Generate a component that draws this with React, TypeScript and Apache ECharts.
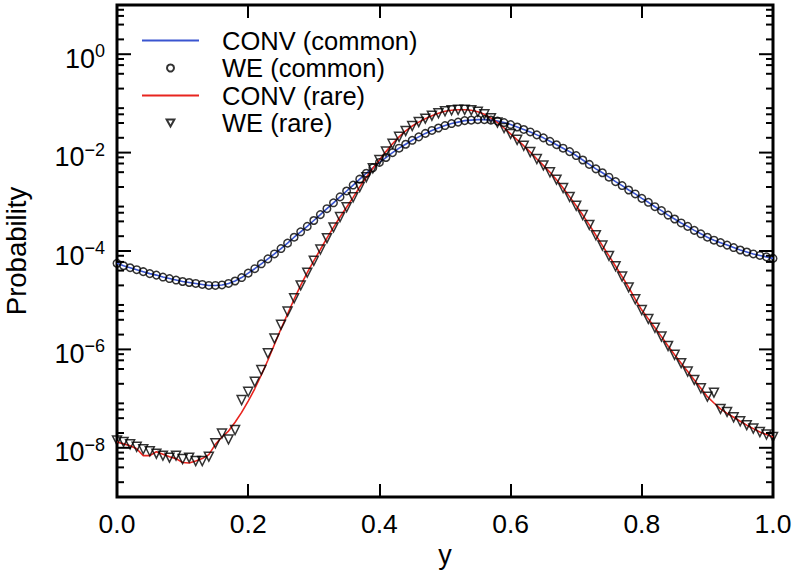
import React, { useEffect, useRef } from "react";
import * as echarts from "echarts";

const FONT = "'Liberation Sans', Arial, Helvetica, sans-serif";

// x sampling step of the curves (x = 0.00 ... 1.00)
const X_STEP = 0.01;

// log10(Probability), common event, x = 0.00 .. 1.00 step 0.01
const commonLog10 = [
  -4.25, -4.3, -4.34, -4.38, -4.42, -4.46, -4.49, -4.53, -4.56, -4.59,
  -4.62, -4.64, -4.66, -4.68, -4.7, -4.7, -4.69, -4.66, -4.61, -4.54,
  -4.45, -4.36, -4.26, -4.16, -4.06, -3.95, -3.84, -3.72, -3.61, -3.5,
  -3.38, -3.26, -3.14, -3.02, -2.9, -2.78, -2.66, -2.54, -2.42, -2.31,
  -2.2, -2.1, -2.0, -1.91, -1.83, -1.75, -1.68, -1.61, -1.55, -1.5,
  -1.45, -1.41, -1.38, -1.35, -1.34, -1.33, -1.33, -1.34, -1.36, -1.39,
  -1.43, -1.48, -1.53, -1.58, -1.64, -1.7, -1.77, -1.84, -1.91, -1.98,
  -2.06, -2.15, -2.24, -2.33, -2.41, -2.5, -2.59, -2.67, -2.76, -2.84,
  -2.93, -3.01, -3.1, -3.18, -3.27, -3.35, -3.43, -3.5, -3.58, -3.65,
  -3.72, -3.78, -3.83, -3.88, -3.93, -3.98, -4.02, -4.06, -4.09, -4.12,
  -4.15,
];

// log10(Probability), rare event, CONV line
const rareConvLog10 = [
  -7.88, -7.92, -7.96, -8.02, -8.16, -8.16, -8.08, -8.13, -8.18, -8.22,
  -8.3, -8.31, -8.27, -8.22, -8.14, -7.93, -7.78, -7.66, -7.48, -7.28,
  -7.05, -6.8, -6.52, -6.22, -5.9, -5.58, -5.28, -4.98, -4.7, -4.44,
  -4.2, -3.97, -3.74, -3.52, -3.31, -3.11, -2.91, -2.7, -2.5, -2.32,
  -2.15, -1.98, -1.82, -1.68, -1.56, -1.46, -1.38, -1.31, -1.25, -1.2,
  -1.16, -1.14, -1.13, -1.13, -1.14, -1.17, -1.22, -1.3, -1.39, -1.5,
  -1.62, -1.74, -1.86, -1.99, -2.13, -2.26, -2.4, -2.55, -2.72, -2.9,
  -3.08, -3.27, -3.47, -3.68, -3.89, -4.1, -4.31, -4.52, -4.74, -4.98,
  -5.2, -5.38, -5.56, -5.74, -5.93, -6.11, -6.28, -6.45, -6.62, -6.79,
  -6.96, -7.09, -7.21, -7.3, -7.38, -7.46, -7.54, -7.61, -7.68, -7.73,
  -7.78,
];

// log10(Probability), rare event, WE markers
const rareWeLog10 = [
  -7.85, -7.88, -7.93, -7.98, -8.03, -8.07, -8.12, -8.16, -8.2, -8.16,
  -8.23, -8.2, -8.27, -8.27, -8.18, -7.91, -7.71, -7.83, -7.64, -7.03,
  -6.86, -6.66, -6.42, -6.08, -5.78, -5.5, -5.23, -4.96, -4.7, -4.44,
  -4.2, -3.97, -3.74, -3.52, -3.31, -3.11, -2.91, -2.7, -2.5, -2.32,
  -2.15, -1.98, -1.82, -1.68, -1.56, -1.46, -1.38, -1.31, -1.25, -1.2,
  -1.16, -1.14, -1.13, -1.13, -1.14, -1.17, -1.22, -1.3, -1.39, -1.5,
  -1.62, -1.74, -1.86, -1.99, -2.13, -2.26, -2.4, -2.55, -2.72, -2.9,
  -3.08, -3.27, -3.47, -3.68, -3.89, -4.1, -4.31, -4.52, -4.74, -4.98,
  -5.2, -5.38, -5.56, -5.74, -5.93, -6.11, -6.28, -6.45, -6.62, -6.79,
  -6.96, -6.88, -7.21, -7.27, -7.38, -7.46, -7.54, -7.61, -7.68, -7.73,
  -7.78,
];

const legendNames = ["CONV (common)", "WE (common)", "CONV (rare)", "WE (rare)"];
const xTickValues = [0, 0.2, 0.4, 0.6, 0.8, 1.0];
const yLabelExponents = [-8, -6, -4, -2, 0];
const yMinorMantissas = [2, 4, 6, 8];
const yDecades = [-9, -8, -7, -6, -5, -4, -3, -2, -1, 0];

const BLUE = "#3a55d0";
const RED = "#e8251f";

const toPoints = (arr: number[]) =>
  arr.map((v, i) => [Number((i * X_STEP).toFixed(2)), Math.pow(10, v)]);

export default function App() {
  const ref = useRef<HTMLDivElement>(null);

  useEffect(() => {
    if (!ref.current) return;
    const chart = echarts.init(ref.current, null, { renderer: "svg" });

    const tickData: number[][] = [];
    yLabelExponents.forEach((e) => tickData.push([0.5, Math.pow(10, e), 1]));
    yDecades.forEach((d) =>
      yMinorMantissas.forEach((m) => tickData.push([0.5, m * Math.pow(10, d), 0]))
    );

    const supText = (e: number) => (e < 0 ? "\u2212" + String(-e) : String(e));
    const lineIcon = "path://M0,0H57V2H0Z";
    const triIcon = "path://M0,0H10L5,9Z";

    chart.setOption({
      animation: false,
      backgroundColor: "#fff",
      grid: {
        left: 117,
        right: 25,
        top: 5,
        bottom: 73,
        show: true,
        borderColor: "#000",
        borderWidth: 3,
        backgroundColor: "transparent",
        containLabel: false,
        outerBoundsMode: "none",
      },
      legend: {
        orient: "vertical",
        left: 142,
        top: 27.5,
        padding: 0,
        itemWidth: 57,
        itemHeight: 7,
        itemGap: 1.5,
        data: [
          { name: legendNames[0], icon: lineIcon, itemStyle: { color: BLUE } },
          { name: legendNames[1] },
          { name: legendNames[2], icon: lineIcon, itemStyle: { color: RED } },
          { name: legendNames[3], icon: triIcon, symbolRotate: 0 },
        ],
        textStyle: {
          fontFamily: FONT,
          fontSize: 25.5,
          color: "#000",
          lineHeight: 25.2,
          padding: [0, 0, 0, 18],
        },
      },
      xAxis: [
        {
          type: "value",
          min: 0,
          max: 1,
          interval: 0.2,
          position: "bottom",
          name: "y",
          nameLocation: "middle",
          nameGap: 32,
          nameTextStyle: { fontFamily: FONT, fontSize: 27, color: "#000" },
          axisLine: { show: false },
          axisTick: { show: true, inside: true, length: 13, lineStyle: { color: "#000", width: 2 } },
          splitLine: { show: false },
          axisLabel: {
            margin: 13,
            fontFamily: FONT,
            fontSize: 26.5,
            color: "#000",
            formatter: (v: number) => (xTickValues.some((t) => Math.abs(t - v) < 1e-9) ? v.toFixed(1) : ""),
          },
        },
        {
          type: "value",
          min: 0,
          max: 1,
          interval: 0.2,
          position: "top",
          axisLine: { show: false },
          axisTick: { show: true, inside: true, length: 13, lineStyle: { color: "#000", width: 2 } },
          splitLine: { show: false },
          axisLabel: { show: false },
        },
      ],
      yAxis: {
        type: "log",
        logBase: 10,
        min: 1e-9,
        max: 10,
        name: "Probability",
        nameLocation: "middle",
        nameRotate: 90,
        nameGap: 87,
        nameTextStyle: { fontFamily: FONT, fontSize: 27.5, color: "#000" },
        axisLine: { show: false },
        axisTick: { show: false },
        splitLine: { show: false },
        axisLabel: {
          margin: 12,
          formatter: (v: number) => {
            const e = Math.round(Math.log10(v));
            if (!yLabelExponents.includes(e)) return "";
            return `{b|10}{s|${supText(e)}}`;
          },
          rich: {
            b: { fontFamily: FONT, fontSize: 27, color: "#000", verticalAlign: "bottom" },
            s: {
              fontFamily: FONT,
              fontSize: 18,
              color: "#000",
              verticalAlign: "bottom",
              padding: [6, 0, 12, 0],
            },
          },
        },
      },
      series: [
        {
          name: "CONV (common)",
          type: "line",
          data: toPoints(commonLog10),
          symbol: "none",
          lineStyle: { color: BLUE, width: 1.6 },
          itemStyle: { color: BLUE },
          z: 2,
        },
        {
          name: "WE (common)",
          type: "scatter",
          data: toPoints(commonLog10),
          symbol: "circle",
          symbolSize: 7.5,
          itemStyle: { color: "rgba(0,0,0,0)", borderColor: "#000", borderWidth: 1.5 },
          z: 3,
        },
        {
          name: "CONV (rare)",
          type: "line",
          data: toPoints(rareConvLog10),
          symbol: "none",
          lineStyle: { color: RED, width: 1.6 },
          itemStyle: { color: RED },
          z: 2,
        },
        {
          name: "WE (rare)",
          type: "scatter",
          data: toPoints(rareWeLog10),
          symbol: "triangle",
          symbolRotate: 180,
          symbolSize: 9,
          itemStyle: { color: "rgba(0,0,0,0)", borderColor: "#000", borderWidth: 1.5 },
          z: 3,
        },
        {
          name: "yticks",
          type: "custom",
          silent: true,
          encode: { x: 0, y: 1 },
          data: tickData,
          z: 4,
          renderItem: (params: any, api: any) => {
            const v = api.value(1);
            const major = api.value(2) === 1;
            const len = major ? 14 : 7;
            const p = api.coord([0, v]);
            const q = api.coord([1, v]);
            const style = { stroke: "#000", lineWidth: 2 };
            return {
              type: "group",
              children: [
                { type: "line", shape: { x1: p[0], y1: p[1], x2: p[0] + len, y2: p[1] }, style },
                { type: "line", shape: { x1: q[0] - len, y1: q[1], x2: q[0], y2: q[1] }, style },
              ],
            };
          },
        },
      ],
    });

    return () => chart.dispose();
  }, []);

  return (
    <div
      ref={ref}
      style={{ position: "absolute", left: 0, top: 0, width: 798, height: 570 }}
    />
  );
}
